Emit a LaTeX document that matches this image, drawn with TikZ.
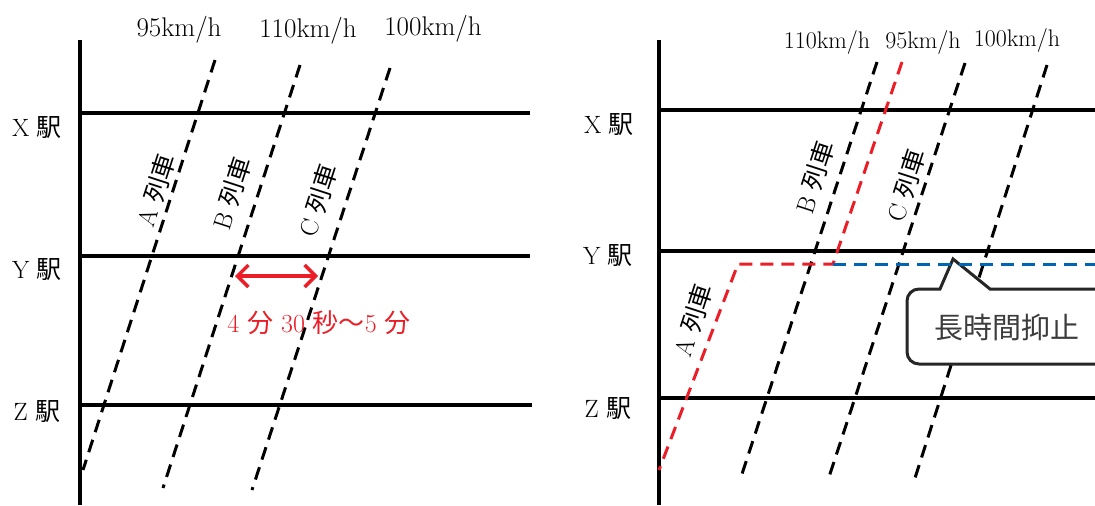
\documentclass[tikz,border=0pt]{standalone}
\usepackage{fontspec}
\newfontfamily\jp{Noto Sans CJK JP}
\usetikzlibrary{arrows.meta}
\definecolor{tred}{RGB}{235,30,40}
\definecolor{tblue}{RGB}{0,102,180}
\definecolor{tgray}{RGB}{60,60,60}
\tikzset{
  axis/.style={line width=4.5pt},
  station/.style={line width=3.8pt},
  stationR/.style={line width=3.2pt},
  train/.style={line width=3pt, dash pattern=on 13pt off 8pt},
  redtrain/.style={train, tred},
  bluetrain/.style={train, tblue},
  speed/.style={font=\fontsize{27}{30}\selectfont, inner sep=0pt},
  speedR/.style={font=\fontsize{24}{28}\selectfont, inner sep=0pt},
  stlabel/.style={font=\fontsize{25}{28}\selectfont, inner sep=0pt},
  trlabel/.style={font=\fontsize{25}{28}\selectfont, inner sep=0pt, rotate=72},
  gaplabel/.style={font=\fontsize{26}{30}\selectfont, inner sep=0pt, text=tred},
  callout/.style={line width=3pt, draw=black!85, fill=white},
}
\begin{document}
\begin{tikzpicture}[x=1pt,y=-1pt]
\useasboundingbox (0,0) rectangle (1095,506);
% ---------- left panel ----------
\coordinate (LaxT) at (80,40);
\coordinate (LaxB) at (80,505);
\draw[axis] (LaxT) -- (LaxB);
\coordinate (LX1) at (80,113); \coordinate (LX2) at (530,113);
\coordinate (LY1) at (80,256); \coordinate (LY2) at (530,256);
\coordinate (LZ1) at (80,405); \coordinate (LZ2) at (532,405);
\draw[station] (LX1) -- (LX2);
\draw[station] (LY1) -- (LY2);
\draw[station] (LZ1) -- (LZ2);
\node[stlabel] (lx) at (37,128) {X {\jp 駅}};
\node[stlabel] (ly) at (37,270) {Y {\jp 駅}};
\node[stlabel] (lz) at (37,412) {Z {\jp 駅}};
\coordinate (LAt) at (215,60);  \coordinate (LAb) at (83,470);
\coordinate (LBt) at (300,65);  \coordinate (LBb) at (163,488);
\coordinate (LCt) at (390,68);  \coordinate (LCb) at (252,490);
\draw[train] (LAt) -- (LAb);
\draw[train] (LBt) -- (LBb);
\draw[train] (LCt) -- (LCb);
\node[speed] (ls1) at (179,30) {95km/h};
\node[speed] (ls2) at (308,31) {110km/h};
\node[speed] (ls3) at (433,29) {100km/h};
\node[trlabel] (lta) at (156,190) {A {\jp 列車}};
\node[trlabel] (ltb) at (232,193) {B {\jp 列車}};
\node[trlabel] (ltc) at (318,200) {C {\jp 列車}};
\coordinate (LarL) at (235,276);
\coordinate (LarR) at (318,276);
\draw[tred, line width=3.4pt, {Straight Barb[length=11pt,width=22pt]}-{Straight Barb[length=11pt,width=22pt]}] (LarL) -- (LarR);
\node[gaplabel] (lgap) at (319,323) {4 {\jp 分} 30 {\jp 秒～}5 {\jp 分}};
% ---------- right panel ----------
\coordinate (RaxT) at (659,40);
\coordinate (RaxB) at (659,505);
\draw[axis] (RaxT) -- (RaxB);
\coordinate (RX1) at (659,110); \coordinate (RX2) at (1095,110);
\coordinate (RY1) at (659,251); \coordinate (RY2) at (1095,251);
\coordinate (RZ1) at (659,398); \coordinate (RZ2) at (1095,398);
\draw[stationR] (RX1) -- (RX2);
\draw[stationR] (RY1) -- (RY2);
\draw[stationR] (RZ1) -- (RZ2);
\node[stlabel] (rx) at (609,125) {X {\jp 駅}};
\node[stlabel] (ry) at (608,256) {Y {\jp 駅}};
\node[stlabel] (rz) at (608,409) {Z {\jp 駅}};
\coordinate (RBt) at (877,62);  \coordinate (RBb) at (742,474);
\coordinate (RCt) at (965,63);  \coordinate (RCb) at (829,477);
\coordinate (RDt) at (1047,65); \coordinate (RDb) at (915,478);
\draw[train] (RBt) -- (RBb);
\draw[train] (RCt) -- (RCb);
\draw[train] (RDt) -- (RDb);
\coordinate (RAt) at (902,62);
\coordinate (RAs) at (833,264);
\coordinate (RAr) at (738,264);
\coordinate (RAb) at (659,470);
\coordinate (RblE) at (1095,264);
\draw[redtrain] (RAt) -- (RAs) -- (RAr) -- (RAb);
\node[speedR] (rs1) at (827,42) {110km/h};
\node[speedR] (rs2) at (923,42) {95km/h};
\node[speedR] (rs3) at (1017,40) {100km/h};
\node[trlabel] (rtb) at (815,177) {B {\jp 列車}};
\node[trlabel] (rtc) at (906,185) {C {\jp 列車}};
\node[trlabel] (rta) at (693,320) {A {\jp 列車}};
% callout
\draw[callout] (1115,289) -- (990,289) -- (953,259) -- (940,289) {[rounded corners=12pt] -- (907,289) -- (907,364) -- (1115,364)};
\node[inner sep=0pt, text=tgray, font=\jp\fontsize{29}{32}\selectfont] (hold) at (1007,328) {長時間抑止};
\draw[bluetrain] (RAs) -- (RblE);
\end{tikzpicture}
\end{document}
